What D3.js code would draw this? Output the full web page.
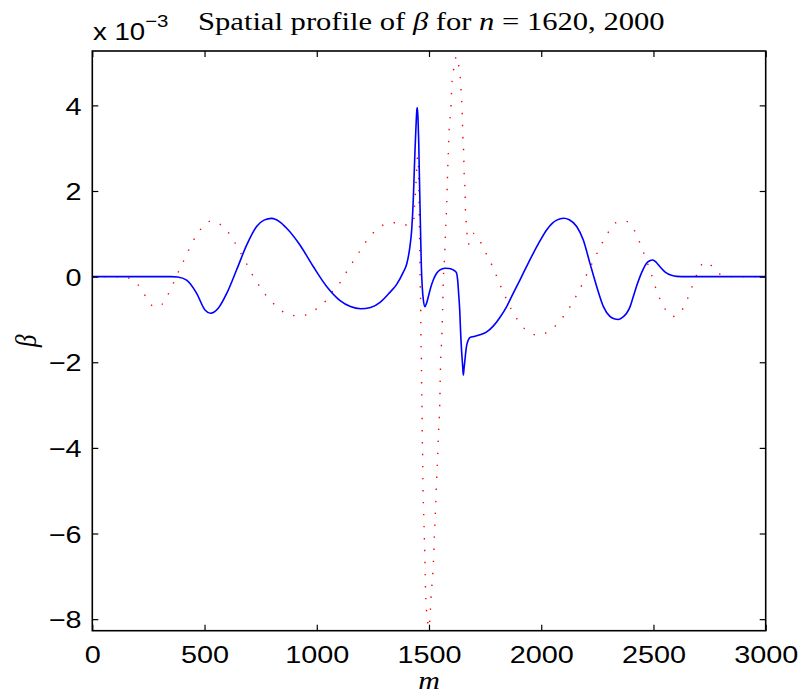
<!DOCTYPE html>
<html><head><meta charset="utf-8">
<script src="https://cdn.jsdelivr.net/npm/d3@7"></script>
<style>body{margin:0;background:#fff}</style></head>
<body>
<svg id="c" width="800" height="693"></svg>
<script>
// n = 2000 (solid blue)
const blueM=[0,200,350,380,420,465,502,527,561,599,643,688,732,765,799,835,866,925,985,1044,1104,1150,1196,1240,1282,1320,1356,1385,1401,1415,1423,1430,1434,1438,1442,1446,1448,1451,1454,1457,1460,1463,1466,1470,1475,1482,1489,1497,1508,1519,1534,1549,1571,1590,1608,1618,1623,1628,1632,1637,1641,1646,1650,1653,1656,1660,1664,1668,1675,1683,1700,1727,1757,1787,1815,1846,1875,1905,1935,1965,1995,2024,2050,2069,2100,2125,2158,2187,2217,2247,2277,2306,2325,2343,2362,2381,2396,2410,2425,2440,2455,2469,2483,2497,2513,2529,2545,2559,2580,2603,2650,3000];
const blueB=[0,0,0,-0.01,-0.08,-0.39,-0.78,-0.855,-0.74,-0.39,0.16,0.74,1.17,1.32,1.36,1.28,1.13,0.74,0.23,-0.23,-0.56,-0.70,-0.75,-0.72,-0.60,-0.40,-0.18,0.10,0.30,0.70,1.10,1.80,2.41,3.0,3.5,3.9,3.95,3.7,3.19,2.4,1.64,0.9,0.23,-0.25,-0.55,-0.70,-0.62,-0.47,-0.25,-0.08,0.08,0.157,0.196,0.19,0.157,0.12,0.08,-0.1,-0.39,-0.8,-1.32,-1.8,-2.10,-2.30,-2.15,-1.95,-1.75,-1.60,-1.48,-1.42,-1.40,-1.36,-1.29,-1.15,-0.96,-0.70,-0.39,-0.08,0.24,0.55,0.84,1.09,1.25,1.32,1.365,1.33,1.17,0.86,0.31,-0.23,-0.70,-0.93,-0.985,-1.0,-0.95,-0.85,-0.70,-0.47,-0.22,0,0.18,0.31,0.37,0.39,0.33,0.23,0.14,0.08,0.03,0.005,0,0];
// n = 1620 (dotted red)
const redM=[0,100,153,175,198,230,260,280,302,334,358,380,398,423,447,475,499,523,547,570,594,631,658,685,698,726,755,792,839,870,899,925,952,1000,1044,1074,1104,1130,1160,1190,1231,1270,1303,1353,1385,1403,1418,1428,1433,1436,1440,1443,1446,1449,1451,1453,1455,1457,1459,1461,1463,1464,1466,1467,1469,1470,1472,1473,1476,1479,1482,1484,1489,1494,1500,1505,1510,1515,1521,1525,1530,1534,1539,1543,1548,1550,1553,1556,1560,1564,1570,1574,1579,1582,1586,1590,1597,1602,1608,1615,1622,1629,1635,1641,1644,1647,1649,1650,1653,1655,1656,1659,1661,1662,1665,1669,1675,1685,1697,1715,1735,1757,1782,1798,1819,1842,1865,1895,1932,1960,1980,2002,2025,2047,2085,2100,2131,2158,2183,2198,2222,2247,2272,2299,2333,2360,2381,2400,2427,2447,2467,2485,2498,2514,2537,2566,2585,2599,2618,2635,2657,2677,2698,2713,2728,2748,2770,2796,2820,2848,3000];
const redB=[0,0,-0.02,-0.07,-0.155,-0.40,-0.65,-0.71,-0.685,-0.45,-0.19,0.07,0.27,0.55,0.81,1.05,1.21,1.29,1.29,1.22,1.11,0.83,0.58,0.33,0.18,-0.06,-0.31,-0.545,-0.78,-0.88,-0.91,-0.92,-0.895,-0.75,-0.545,-0.32,-0.14,0.09,0.34,0.58,0.90,1.11,1.22,1.26,1.24,1.20,1.22,1.28,1.36,1.66,2.0,2.3,2.6,2.8,2.8,2.55,2.0,1.3,0.6,-0.19,-0.76,-1.35,-1.93,-2.51,-3.10,-3.69,-4.28,-4.86,-5.45,-6.04,-6.62,-7.20,-7.79,-8.05,-8.2,-7.9,-7.4,-7.09,-6.50,-5.91,-5.33,-4.74,-4.16,-3.57,-2.98,-2.40,-1.81,-1.53,-0.9,-0.06,0.52,1.11,1.70,2.28,2.87,3.45,3.89,4.48,4.77,5.0,5.15,5.05,4.83,4.54,4.25,3.96,3.66,3.37,3.08,2.79,2.49,2.20,1.91,1.61,1.32,1.03,0.75,0.92,1.01,0.92,0.76,0.51,0.25,0.05,-0.22,-0.49,-0.75,-1.01,-1.25,-1.34,-1.36,-1.36,-1.30,-1.22,-1.03,-0.92,-0.68,-0.43,-0.17,0,0.26,0.53,0.79,1.04,1.26,1.30,1.29,1.20,0.95,0.68,0.41,0.14,-0.06,-0.33,-0.61,-0.86,-0.93,-0.92,-0.85,-0.71,-0.45,-0.17,0.11,0.27,0.34,0.30,0.20,0.06,0.01,0,0];

const xTicks=[0,500,1000,1500,2000,2500,3000];
const yTicks=[-8,-6,-4,-2,0,2,4];
const xDomain=[0,3000], yDomain=[-8.27,5.27];

const svg=d3.select("#c");
const L=92.3,R=765.7,T=51,B=630.7;
const SX=1.2; // horizontal stretch of the reference's sans text
const x=d3.scaleLinear().domain(xDomain).range([L,R]);
const y=d3.scaleLinear().domain(yDomain).range([B,T]);
const font="'Liberation Sans', Arial, Helvetica, sans-serif";
const serif="'Liberation Serif','DejaVu Serif','Times New Roman',serif";

// curves
const blue=blueM.map((m,i)=>[m,blueB[i]]);
const red=redM.map((m,i)=>[m,redB[i]]);
const line=d3.line().x(d=>x(d[0])).y(d=>y(d[1])).curve(d3.curveMonotoneX);
svg.append("path").datum(red).attr("d",line).attr("fill","none")
  .attr("stroke","#ff0000").attr("stroke-width",1.4).attr("stroke-dasharray","1.4 10.6");
svg.append("path").datum(blue).attr("d",line).attr("fill","none")
  .attr("stroke","#0000ff").attr("stroke-width",1.6);

// axes (ticks inward on all four sides)
function styleAxis(g){g.select(".domain").remove();g.selectAll("line").attr("stroke","#000").attr("stroke-width",1.2);}
svg.append("g").attr("transform",`translate(0,${B})`)
  .call(d3.axisBottom(x).tickValues(xTicks).tickSize(-6).tickFormat(d3.format("d")))
  .call(styleAxis).call(g=>g.selectAll("text").attr("font-family",font).attr("font-size",24).attr("fill","#000")
     .attr("y",32).attr("dy",0).attr("transform",`scale(${SX},1)`));
svg.append("g").attr("transform",`translate(0,${T})`)
  .call(d3.axisTop(x).tickValues(xTicks).tickSize(-6).tickFormat(""))
  .call(styleAxis);
svg.append("g").attr("transform",`translate(${L},0)`)
  .call(d3.axisLeft(y).tickValues(yTicks).tickSize(-6).tickFormat(d=>d<0?"\u2212"+Math.abs(d):d))
  .call(styleAxis).call(g=>g.selectAll("text").attr("font-family",font).attr("font-size",24).attr("fill","#000")
     .attr("x",-10.8/SX).attr("dy","0.36em").attr("transform",`scale(${SX},1)`));
svg.append("g").attr("transform",`translate(${R},0)`)
  .call(d3.axisRight(y).tickValues(yTicks).tickSize(-6).tickFormat(""))
  .call(styleAxis);

svg.append("rect").attr("x",L).attr("y",T).attr("width",R-L).attr("height",B-T)
  .attr("fill","none").attr("stroke","#000").attr("stroke-width",1.6);

// exponent label
const ex=svg.append("text").attr("transform",`translate(93,40) scale(${SX},1)`).attr("font-family",font).attr("font-size",23).attr("fill","#000");
ex.append("tspan").text("x 10");
ex.append("tspan").attr("dy",-13).attr("font-size",17).text("\u22123");

// title
const t=svg.append("text").attr("font-family",serif).attr("font-size",26).attr("fill","#000");
t.append("tspan").text("Spatial profile of ");
t.append("tspan").attr("font-style","italic").text("β");
t.append("tspan").text(" for ");
t.append("tspan").attr("font-style","italic").text("n");
t.append("tspan").text(" = 1620, 2000");
const tw=t.node().getComputedTextLength();
t.attr("transform",`translate(198,30) scale(${467/tw},1)`);

// axis labels
svg.append("text").attr("transform",`translate(${(L+R)/2},689) scale(1.2,1)`).attr("text-anchor","middle")
  .attr("font-family",serif).attr("font-style","italic").attr("font-size",25).text("m");
svg.append("text").attr("transform",`translate(36,${(T+B)/2}) rotate(-90) scale(1,1.2)`).attr("text-anchor","middle")
  .attr("font-family",serif).attr("font-style","italic").attr("font-size",25).text("β");
</script>
</body></html>
